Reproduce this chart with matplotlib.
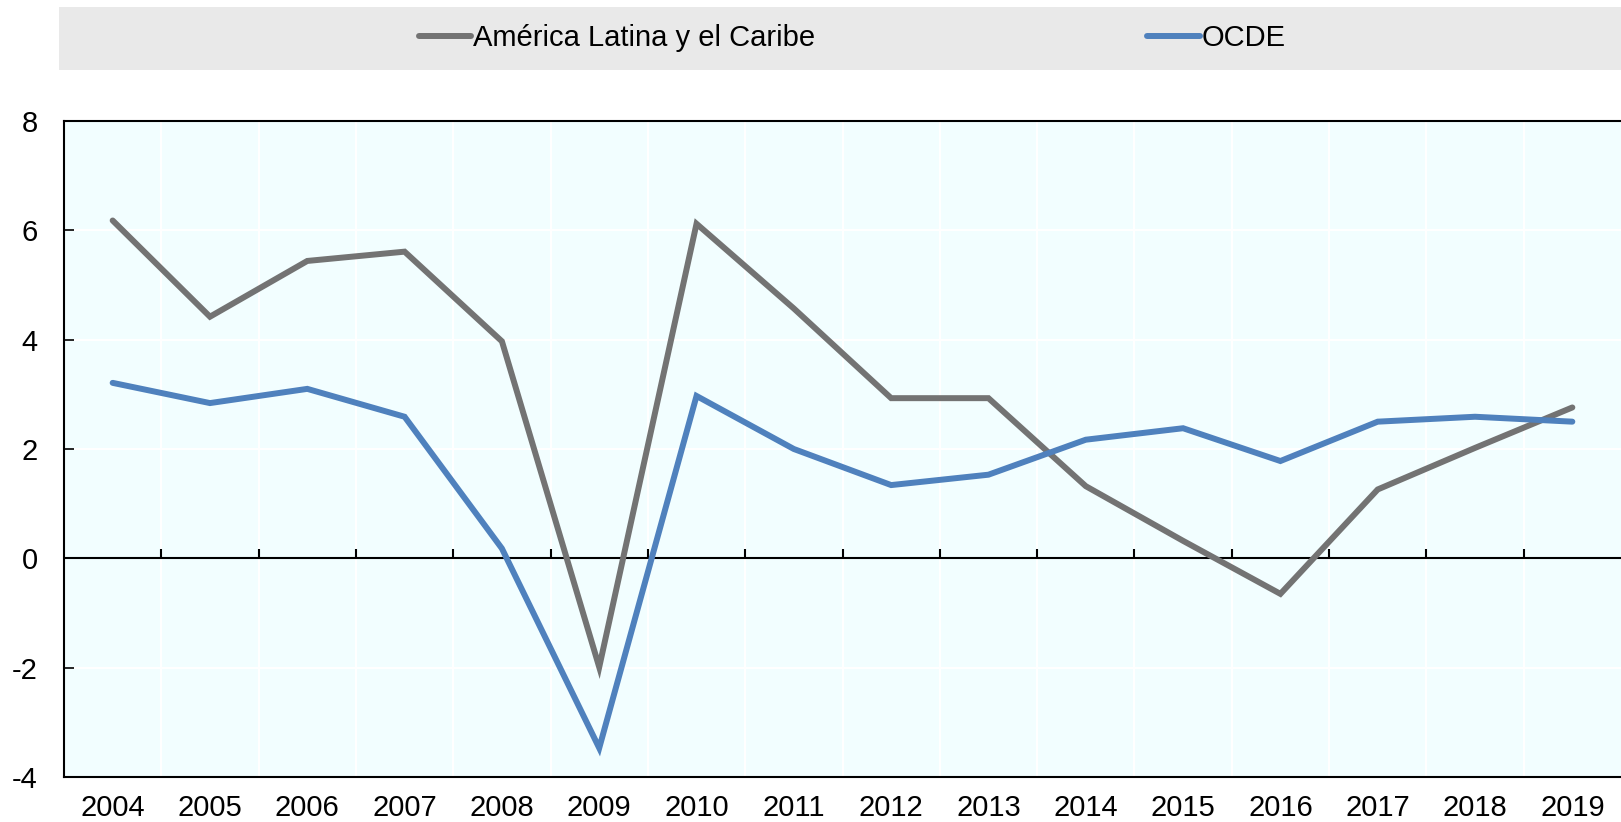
import matplotlib
matplotlib.use("Agg")
import matplotlib.pyplot as plt
import numpy as np

plt.rcParams['font.family'] = ['Liberation Sans Narrow', 'Liberation Sans', 'DejaVu Sans']

years = ['2004', '2005', '2006', '2007', '2008', '2009', '2010', '2011',
         '2012', '2013', '2014', '2015', '2016', '2017', '2018', '2019']
alc = [6.18, 4.42, 5.44, 5.61, 3.97, -1.99, 6.12, 4.57,
       2.93, 2.93, 1.32, 0.32, -0.65, 1.26, 2.02, 2.76]
ocde = [3.21, 2.84, 3.10, 2.59, 0.18, -3.47, 2.97, 2.00,
        1.34, 1.53, 2.17, 2.38, 1.78, 2.50, 2.59, 2.50]
labels = ['América Latina y el Caribe', 'OCDE']
yticks = [-4, -2, 0, 2, 4, 6, 8]

fig = plt.figure(figsize=(16.21, 8.22), dpi=100)
ax = fig.add_axes([64 / 1621, 1 - 777 / 822, 1 - 64 / 1621, (777 - 121) / 822])
ax.set_facecolor('#F2FEFF')

x = np.arange(len(years))
l1, = ax.plot(x, alc, color='#737373', lw=4.3, solid_capstyle='round', solid_joinstyle='miter', zorder=3)
l2, = ax.plot(x, ocde, color='#4F81BD', lw=4.3, solid_capstyle='round', solid_joinstyle='miter', zorder=4)

ax.set_xlim(-0.5, len(years) - 0.5)
ax.set_ylim(-4, 8)

# white grid lines
for yv in yticks[1:-1]:
    ax.axhline(yv, color='white', lw=1.5, zorder=1)
for b in x[:-1] + 0.5:
    ax.axvline(b, color='white', lw=1.5, zorder=1)

# zero line with category boundary ticks
ax.axhline(0, color='black', lw=1.5, zorder=2)
ax.vlines(x[:-1] + 0.5, 0, 0.17, color='black', lw=1.5, zorder=2)

ax.set_xticks(x)
ax.set_xticklabels(years)
ax.tick_params(axis='x', length=0, pad=12, labelsize=21)
ax.set_yticks(yticks)
ax.set_yticklabels([str(v) for v in yticks])
ax.tick_params(axis='y', direction='in', length=7, width=1.2, pad=19, labelsize=21)

for s in ['left', 'top', 'bottom']:
    ax.spines[s].set_linewidth(1.5)
    ax.spines[s].set_color('black')
ax.spines['right'].set_visible(False)

# legend band
band = plt.Rectangle((59 / 1621, 1 - 70 / 822), 1 - 59 / 1621, 63 / 822,
                     transform=fig.transFigure, facecolor='#E9E9E9', edgecolor='none', zorder=0)
fig.add_artist(band)
fig.legend([l1, l2], labels, loc='center', bbox_to_anchor=(852 / 1621, 1 - 38 / 822),
           ncol=2, frameon=False, fontsize=21, handlelength=1.8, handletextpad=0.05,
           columnspacing=11.4)

fig.savefig('out.png', dpi=100)
